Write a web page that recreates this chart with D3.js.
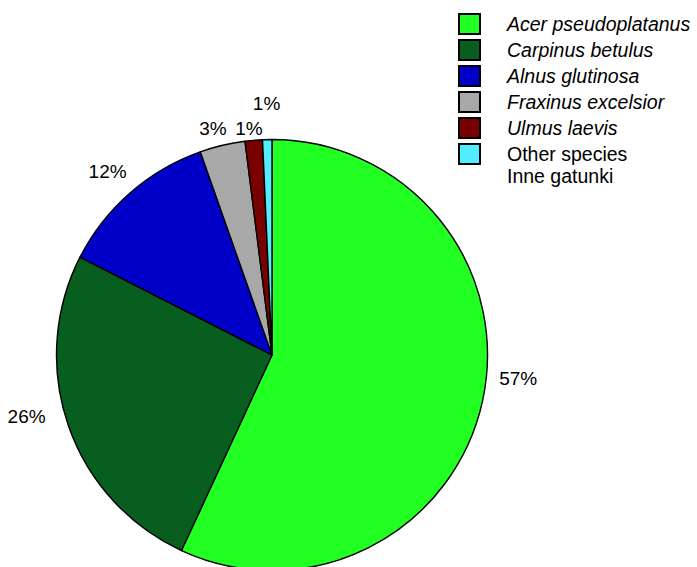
<!DOCTYPE html>
<html>
<head>
<meta charset="utf-8">
<script src="https://cdn.jsdelivr.net/npm/d3@7"></script>
<style>
  html, body { margin: 0; padding: 0; background: #fff; }
  svg { display: block; font-family: "Liberation Sans", Arial, sans-serif; }
</style>
</head>
<body>
<svg id="chart" width="697" height="567"></svg>
<script>
// Species share of stand (%)
const species = ["Acer pseudoplatanus", "Carpinus betulus", "Alnus glutinosa", "Fraxinus excelsior", "Ulmus laevis", "Other species"];
const shares  = [56.9, 25.6, 12.1, 3.4, 1.3, 0.7];
const colors  = ["#22ff22", "#085e1e", "#0000c8", "#a8a8a8", "#780000", "#52eeff"];
const italic  = [true, true, true, true, true, false];
const legendExtra = "Inne gatunki";

const svg = d3.select("#chart");
const cx = 272, cy = 355, R = 215.5;

const pie = d3.pie().sort(null).value(d => d.v);
const arcs = pie(species.map((s, i) => ({ s, v: shares[i], c: colors[i] })));
const arc = d3.arc().innerRadius(0).outerRadius(R);
const labelArc = d3.arc().innerRadius(248).outerRadius(248);

const g = svg.append("g").attr("transform", `translate(${cx},${cy})`);
g.selectAll("path.slice")
  .data(arcs)
  .join("path")
  .attr("class", "slice")
  .attr("d", arc)
  .attr("fill", d => d.data.c)
  .attr("stroke", "#000")
  .attr("stroke-width", 1.4)
  .attr("stroke-linejoin", "round");

// small offsets so labels clear the rim and each other
const labelNudge = [[4, -23], [-11, -13], [-1, 10], [-2, 21], [-2, 27], [0, 3]];
g.selectAll("text.pct")
  .data(arcs)
  .join("text")
  .attr("class", "pct")
  .attr("x", (d, i) => labelArc.centroid(d)[0] + labelNudge[i][0])
  .attr("y", (d, i) => labelArc.centroid(d)[1] + labelNudge[i][1])
  .attr("text-anchor", "middle")
  .attr("font-size", 19)
  .attr("fill", "#000")
  .text(d => Math.round(d.data.v) + "%");

// legend
const lg = svg.append("g").attr("transform", "translate(458,13)");
const rowH = 26;
const rows = lg.selectAll("g.row").data(species).join("g")
  .attr("class", "row")
  .attr("transform", (d, i) => `translate(0,${i * rowH})`);
rows.append("rect")
  .attr("x", 1).attr("y", 1)
  .attr("width", 21).attr("height", 20)
  .attr("fill", (d, i) => colors[i])
  .attr("stroke", "#000")
  .attr("stroke-width", 2);
rows.append("text")
  .attr("x", 49).attr("y", 18)
  .attr("font-size", 19.5)
  .attr("font-style", (d, i) => italic[i] ? "italic" : "normal")
  .attr("fill", "#000")
  .text(d => d);
lg.append("text")
  .attr("x", 49).attr("y", (species.length - 1) * rowH + 18 + 22)
  .attr("font-size", 19.5)
  .attr("fill", "#000")
  .text(legendExtra);
</script>
</body>
</html>
